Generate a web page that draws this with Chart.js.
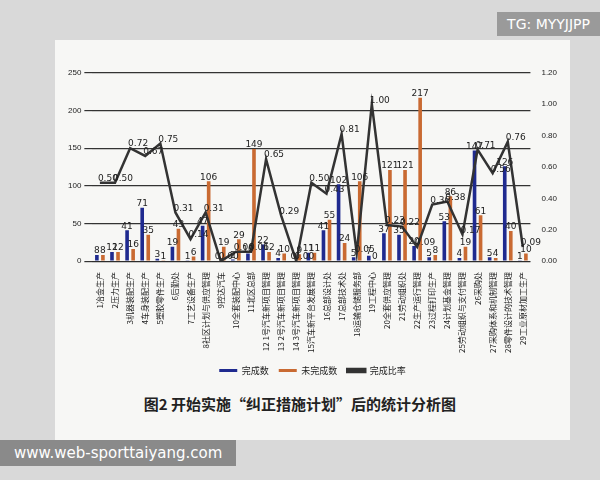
<!DOCTYPE html><html><head><meta charset="utf-8">
<script src="https://cdn.jsdelivr.net/npm/chart.js@4/dist/chart.umd.min.js"></script>
<style>body{margin:0;background:#d9d9d9;font-family:"Noto Sans CJK SC";}
#page{position:absolute;left:55px;top:40px;width:515px;height:400px;background:#f7f7f5;}
#wrap{position:absolute;left:60px;top:65px;width:505px;height:320px;}
#title{position:absolute;left:0;width:600px;top:393px;text-align:center;font-size:15px;font-weight:bold;color:#222;}
#tg{position:absolute;right:0;top:12px;background:#9a9a9a;color:#fff;font:14px "DejaVu Sans";padding:4px 10px;}
#web{position:absolute;left:0;top:440px;background:#8a8a8a;color:#fff;font:15px "DejaVu Sans";padding:4px 14px;}
</style></head><body><div id="page"></div><div id="wrap"><canvas id="c"></canvas></div>
<div id="title">图2 开始实施“纠正措施计划”后的统计分析图</div>
<div id="tg">TG: MYYJJPP</div><div id="web">www.web-sporttaiyang.com</div>
<script>
const categories=["1冶金生产","2压力生产","3机器装配生产","4车身装配生产","5塑胶零件生产","6后勤处","7工艺设备生产","8社区计划与供应管理","9控达汽车","10全套装配中心","11北区总部","12 1号汽车新项目管理","13 2号汽车新项目管理","14 3号汽车新项目管理","15汽车新平台发展管理","16总部设计处","17总部技术处","18运输仓储服务部","19工程中心","20全套供应管理","21劳动组织处","22生产运行管理","23过程打印生产","24计划基金管理","25劳动组织与支付管理","26采购处","27采购体系和机制管理","28零件设计的技术管理","29工业原材加工生产"];
const done=[8,12,41,71,3,19,1,47,0,2,10,22,4,0,11,41,102,5,7,37,35,20,5,53,4,147,5,126,1];
const undone=[8,12,16,35,1,43,6,106,19,29,149,12,10,9,11,55,24,106,0,121,121,217,8,86,19,61,4,40,10];
const ratio=[0.50,0.50,0.72,0.67,0.75,0.31,0.14,0.31,0.00,0.06,0.06,0.65,0.29,0.00,0.50,0.43,0.81,0.05,1.00,0.23,0.22,0.09,0.36,0.38,0.17,0.71,0.56,0.76,0.09];
const labelsPlugin={id:'lbl',afterDatasetsDraw(ch){const c=ch.ctx;c.save();c.font='9px "DejaVu Sans"';c.fillStyle='#222';c.textAlign='center';
ch.data.datasets.forEach((d,i)=>{ch.getDatasetMeta(i).data.forEach((el,j)=>{const v=d.data[j];const t=i==2?v.toFixed(2):String(v);c.fillText(t,el.x+(i==2?8:0),el.y-4);});});c.restore();}};
new Chart(document.getElementById('c'),{type:'bar',data:{labels:categories,datasets:[
{label:'完成数',data:done,backgroundColor:'#1f2a8f',yAxisID:'y',order:2,barPercentage:0.6,categoryPercentage:0.8},
{label:'未完成数',data:undone,backgroundColor:'#c96a32',yAxisID:'y',order:2,barPercentage:0.6,categoryPercentage:0.8},
{label:'完成比率',type:'line',data:ratio,borderColor:'#333',backgroundColor:'#333',borderWidth:2.5,pointRadius:0,tension:0,yAxisID:'y1',order:1}]},
options:{responsive:true,maintainAspectRatio:false,animation:false,layout:{padding:{left:5,right:5,top:5}},
plugins:{legend:{position:'bottom',labels:{sort:(a,b)=>a.datasetIndex-b.datasetIndex,boxWidth:18,boxHeight:3,font:{size:9,family:'"Noto Sans CJK SC"'},color:'#222'}},tooltip:{enabled:false}},
scales:{x:{grid:{display:false},ticks:{autoSkip:false,maxRotation:90,minRotation:90,font:{size:8,family:'"Noto Sans CJK SC"'},color:'#222'}},
y:{min:0,max:250,ticks:{stepSize:50,font:{size:8},color:'#222'},grid:{color:'#333',lineWidth:1.2},border:{display:false}},
y1:{position:'right',min:0,max:1.2,ticks:{stepSize:0.2,callback:v=>v.toFixed(2),font:{size:8},color:'#222'},grid:{display:false},border:{display:false}}}},
plugins:[labelsPlugin]});
</script></body></html>
